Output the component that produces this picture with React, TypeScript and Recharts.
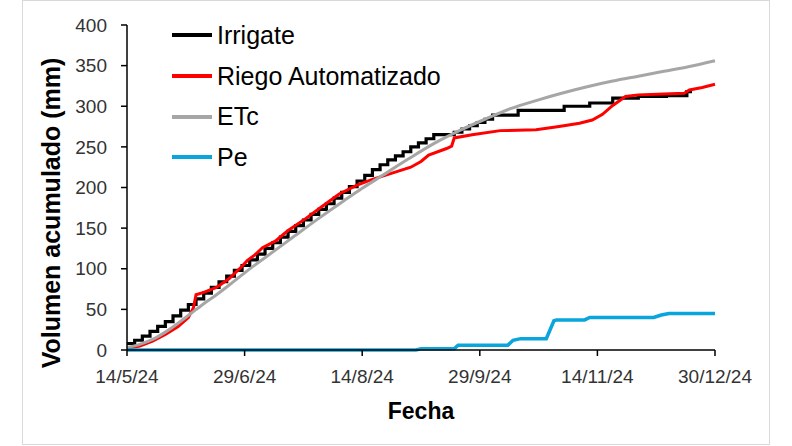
import React from 'react';
import { LineChart, Line, XAxis, YAxis, Label } from 'recharts';

// Day index counted from 14/5/24
const tickDays = [0, 46, 92, 138, 184, 230];
const tickLabels = ['14/5/24', '29/6/24', '14/8/24', '29/9/24', '14/11/24', '30/12/24'];
const yTicks = [0, 50, 100, 150, 200, 250, 300, 350, 400];

const seriesNames = ['Irrigate', 'Riego Automatizado', 'ETc', 'Pe'];
const seriesColors = ['#000000', '#ff0000', '#a6a6a6', '#0aa5dc'];

const irrigate = [
  { d: 0, v: 8 }, { d: 3, v: 12 }, { d: 6, v: 17 }, { d: 9, v: 23 }, { d: 12, v: 29 },
  { d: 15, v: 35 }, { d: 18, v: 42 }, { d: 21, v: 49 }, { d: 24, v: 56 }, { d: 27, v: 63 },
  { d: 30, v: 70 }, { d: 33, v: 77 }, { d: 36, v: 84 }, { d: 39, v: 91 }, { d: 42, v: 98 },
  { d: 45, v: 104 }, { d: 48, v: 111 }, { d: 51, v: 118 }, { d: 54, v: 125 }, { d: 57, v: 132 },
  { d: 60, v: 139 }, { d: 63, v: 146 }, { d: 66, v: 153 }, { d: 69, v: 160 }, { d: 72, v: 167 },
  { d: 75, v: 173 }, { d: 78, v: 180 }, { d: 81, v: 187 }, { d: 84, v: 194 }, { d: 87, v: 201 },
  { d: 90, v: 208 }, { d: 93, v: 215 }, { d: 96, v: 222 }, { d: 99, v: 228 }, { d: 102, v: 234 },
  { d: 105, v: 239 }, { d: 108, v: 244 }, { d: 111, v: 250 }, { d: 114, v: 255 }, { d: 117, v: 260 },
  { d: 120, v: 265 }, { d: 128, v: 268 }, { d: 131, v: 272 }, { d: 134, v: 276 }, { d: 137, v: 280 },
  { d: 140, v: 284 }, { d: 143, v: 289 }, { d: 153, v: 295 }, { d: 171, v: 300 }, { d: 181, v: 304 },
  { d: 190, v: 310 }, { d: 200, v: 312 }, { d: 211, v: 313 }, { d: 219, v: 318 }, { d: 221, v: 318 },
];

const riego = [
  { d: 0, v: 2 }, { d: 5, v: 5 }, { d: 10, v: 11 }, { d: 15, v: 19 }, { d: 20, v: 29 },
  { d: 24, v: 40 }, { d: 26, v: 52 }, { d: 27, v: 68 }, { d: 30, v: 71 }, { d: 35, v: 77 },
  { d: 40, v: 88 }, { d: 45, v: 103 }, { d: 47, v: 110 }, { d: 50, v: 117 }, { d: 53, v: 126 },
  { d: 58, v: 134 }, { d: 63, v: 147 }, { d: 70, v: 162 }, { d: 76, v: 176 }, { d: 83, v: 192 },
  { d: 90, v: 203 }, { d: 96, v: 210 }, { d: 104, v: 218 }, { d: 111, v: 225 }, { d: 115, v: 232 },
  { d: 118, v: 240 }, { d: 125, v: 248 }, { d: 127, v: 251 }, { d: 128, v: 261 }, { d: 135, v: 265 },
  { d: 146, v: 270 }, { d: 160, v: 271 }, { d: 169, v: 275 }, { d: 177, v: 279 }, { d: 182, v: 283 },
  { d: 186, v: 290 }, { d: 190, v: 301 }, { d: 195, v: 312 }, { d: 200, v: 314 }, { d: 210, v: 315 },
  { d: 218, v: 316 }, { d: 220, v: 320 }, { d: 225, v: 323 }, { d: 230, v: 327 },
];

const etc = [
  { d: 0, v: 3 }, { d: 5, v: 7 }, { d: 10, v: 13 }, { d: 15, v: 22 }, { d: 20, v: 33 },
  { d: 25, v: 45 }, { d: 30, v: 57 }, { d: 35, v: 68 }, { d: 40, v: 80 }, { d: 46, v: 95 },
  { d: 55, v: 116 }, { d: 65, v: 139 }, { d: 75, v: 162 }, { d: 85, v: 184 }, { d: 92, v: 199 },
  { d: 100, v: 215 }, { d: 110, v: 235 }, { d: 120, v: 254 }, { d: 130, v: 270 }, { d: 140, v: 284 },
  { d: 150, v: 297 }, { d: 160, v: 307 }, { d: 170, v: 316 }, { d: 180, v: 324 }, { d: 190, v: 331 },
  { d: 200, v: 337 }, { d: 210, v: 343 }, { d: 220, v: 349 }, { d: 230, v: 356 },
];

const pe = [
  { d: 0, v: 0 }, { d: 113, v: 0 }, { d: 115, v: 1.5 }, { d: 128, v: 1.5 }, { d: 129.5, v: 6 },
  { d: 149, v: 6 }, { d: 151, v: 12 }, { d: 154, v: 14 }, { d: 164, v: 14 }, { d: 165.5, v: 25 },
  { d: 167, v: 36 }, { d: 168, v: 37 }, { d: 179, v: 37 }, { d: 181, v: 40 }, { d: 206, v: 40 },
  { d: 209, v: 43 }, { d: 212, v: 45 }, { d: 230, v: 45 },
];

const FONT = '"Liberation Sans", Arial, sans-serif';

export default function App() {
  return (
    <div style={{ position: 'absolute', left: 0, top: 0, width: 792, height: 446, background: '#fff' }}>
      <div
        style={{
          position: 'absolute', left: 22, top: 0, width: 748, height: 445,
          border: '1.5px solid #d9d9d9', boxSizing: 'border-box',
        }}
      />
      <div style={{ position: 'absolute', left: 0, top: 0 }}>
        <LineChart width={792} height={446} margin={{ top: 25, right: 77, bottom: 0, left: 0 }}>
          <XAxis
            type="number"
            dataKey="d"
            domain={[0, 230]}
            ticks={tickDays}
            tickFormatter={(v: number) => tickLabels[tickDays.indexOf(v)]}
            height={96}
            interval={0}
            tickSize={6}
            tickMargin={14}
            axisLine={{ stroke: '#000', strokeWidth: 1.5 }}
            tickLine={{ stroke: '#000', strokeWidth: 1.5 }}
            tick={{ fill: '#333', fontSize: 19, fontFamily: FONT }}
          >
            <Label
              content={() => (
                <text x={421} y={419} textAnchor="middle" fontSize={23} fontWeight="bold" fontFamily={FONT} fill="#000">
                  Fecha
                </text>
              )}
            />
          </XAxis>
          <YAxis
            type="number"
            domain={[0, 400]}
            ticks={yTicks}
            width={127}
            interval={0}
            tickSize={6}
            tickMargin={14}
            axisLine={{ stroke: '#000', strokeWidth: 1.5 }}
            tickLine={{ stroke: '#000', strokeWidth: 1.5 }}
            tick={{ fill: '#333', fontSize: 19, fontFamily: FONT }}
          >
            <Label
              content={() => (
                <text
                  x={60}
                  y={213}
                  transform="rotate(-90, 60, 213)"
                  textAnchor="middle"
                  fontSize={25}
                  fontWeight="bold"
                  fontFamily={FONT}
                  fill="#000"
                >
                  Volumen acumulado (mm)
                </text>
              )}
            />
          </YAxis>
          <Line data={irrigate} dataKey="v" name={seriesNames[0]} type="stepAfter" stroke={seriesColors[0]} strokeWidth={3.2} dot={false} isAnimationActive={false} />
          <Line data={riego} dataKey="v" name={seriesNames[1]} type="linear" stroke={seriesColors[1]} strokeWidth={3} dot={false} isAnimationActive={false} />
          <Line data={etc} dataKey="v" name={seriesNames[2]} type="monotone" stroke={seriesColors[2]} strokeWidth={3} dot={false} isAnimationActive={false} />
          <Line data={pe} dataKey="v" name={seriesNames[3]} type="linear" stroke={seriesColors[3]} strokeWidth={3.5} dot={false} isAnimationActive={false} />
        </LineChart>
      </div>
      <div style={{ position: 'absolute', left: 172, top: 15, fontFamily: FONT }}>
        {seriesNames.map((n, i) => (
          <div key={n} style={{ display: 'flex', alignItems: 'center', height: 40.7 }}>
            <div style={{ width: 40, height: 4, background: seriesColors[i], marginRight: 5 }} />
            <span style={{ fontSize: 25, color: '#000', whiteSpace: 'nowrap' }}>{n}</span>
          </div>
        ))}
      </div>
    </div>
  );
}
